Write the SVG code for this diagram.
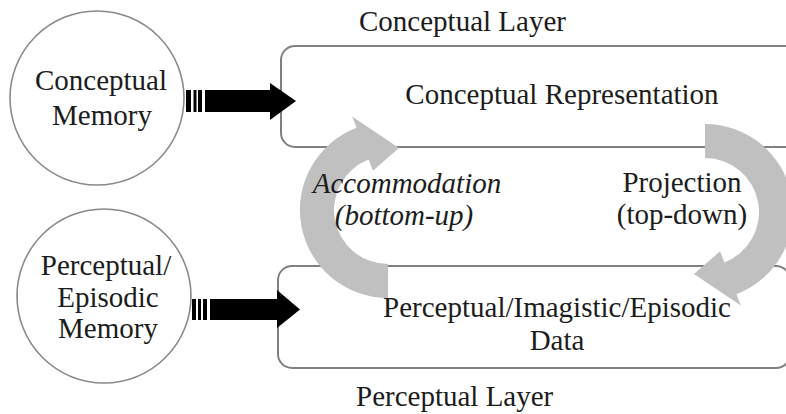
<svg xmlns="http://www.w3.org/2000/svg" width="786" height="414" viewBox="0 0 786 414">
<style>
.circ{fill:#fff;stroke:#8a8a8a;stroke-width:1.6}
.box{fill:none;stroke:#808080;stroke-width:2}
.t{font-family:"Liberation Serif","Times New Roman",serif;font-size:29px;fill:#1c1c1c}
.m{text-anchor:middle}
.i{font-style:italic}
.grey{fill:#c0c0c0}
.blk{fill:#000}
</style>
<defs>
<path id="arc" d="M388,298 A88,88 0 0 1 356.5,127.8 L352.2,116.6 L399,148 L372.9,170.8 L368.6,159.6 A54,54 0 0 0 388,264 Z"/>
</defs>
<rect width="786" height="414" fill="#fff"/>
<g id="conceptual-layer">
<rect class="box" x="281" y="46" width="520" height="101" rx="14"/>
<text class="t" x="359" y="31">Conceptual Layer</text>
</g>
<g id="perceptual-layer">
<rect class="box" x="278" y="266" width="512" height="102" rx="14"/>
<text class="t" x="356" y="406">Perceptual Layer</text>
</g>
<g id="conceptual-memory">
<circle class="circ" cx="97" cy="98" r="87"/>
<text class="t m" x="101" y="90">Conceptual</text>
<text class="t m" x="102" y="125">Memory</text>
</g>
<g id="perceptual-memory">
<circle class="circ" cx="104" cy="296" r="87"/>
<text class="t m" x="106" y="275">Perceptual/</text>
<text class="t m" x="108" y="307">Episodic</text>
<text class="t m" x="108" y="338">Memory</text>
</g>
<g id="connectors">
<g id="arrow-top" class="blk">
<rect x="186" y="90" width="5" height="22"/>
<rect x="193.5" y="90" width="3" height="22"/>
<rect x="198" y="90" width="4" height="22"/>
<rect x="205" y="90" width="66" height="22"/>
<polygon points="270,83 296,101 270,120"/>
</g>
<g id="arrow-bottom" class="blk">
<rect x="192" y="299" width="4" height="21"/>
<rect x="198" y="299" width="3" height="21"/>
<rect x="203" y="299" width="4" height="21"/>
<rect x="210" y="299" width="68" height="21"/>
<polygon points="277,290 300,309.5 277,328"/>
</g>
<use id="accommodation" href="#arc" class="grey"/>
<use id="projection" href="#arc" class="grey" transform="rotate(180 546.5 211)"/>
</g>
<g id="box-labels">
<text class="t m" x="562" y="104">Conceptual Representation</text>
<text class="t m" x="557" y="317">Perceptual/Imagistic/Episodic</text>
<text class="t m" x="557" y="350">Data</text>
</g>
<g id="connector-labels">
<text class="t m i" x="407" y="193">Accommodation</text>
<text class="t m i" x="404" y="225">(bottom-up)</text>
<text class="t m" x="682" y="192">Projection</text>
<text class="t m" x="682" y="224">(top-down)</text>
</g>
</svg>
